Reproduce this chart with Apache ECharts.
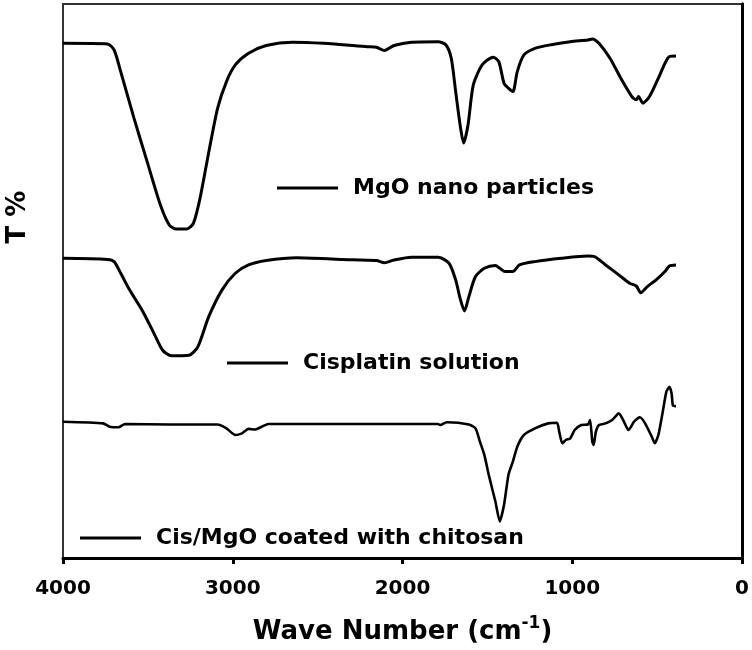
<!DOCTYPE html>
<html>
<head>
<meta charset="utf-8">
<script src="https://cdn.jsdelivr.net/npm/echarts@6/dist/echarts.min.js"></script>
<style>html,body{margin:0;padding:0;background:#fff;}#c{width:752px;height:650px;}</style>
</head>
<body>
<div id="c"></div>
<script>
// Wave numbers (cm-1) and relative transmittance (arbitrary offset units)
const mgoWave = [4000,3738,3699,3660,3582,3504,3426,3374,3335,3271,3232,3193,3141,3089,3037,2985,2907,2803,2648,2466,2206,2154,2107,2050,1947,1791,1744,1713,1687,1661,1640,1614,1583,1531,1466,1433,1402,1376,1350,1324,1285,1220,1116,1012,908,882,843,778,714,649,623,610,584,545,493,454,428,389];
const mgoT = [92.9,92.8,91.7,87.8,79.4,71.5,63.7,60.1,59.4,59.4,60.4,64.9,73.3,81.2,86.0,89.0,91.1,92.5,93.1,92.9,92.3,92.2,91.6,92.5,93.1,93.2,92.6,90.2,84.2,78.2,74.9,78.2,85.4,89.0,90.4,89.6,85.7,84.8,84.2,87.8,90.8,92.0,92.7,93.2,93.5,93.7,92.9,90.2,86.6,83.3,82.7,83.3,82.1,83.3,86.6,89.3,90.5,90.6];

const cisWave = [4000,3738,3699,3660,3608,3530,3465,3413,3361,3258,3206,3141,3063,2985,2907,2803,2622,2362,2154,2107,2050,1947,1791,1726,1687,1661,1635,1609,1570,1518,1453,1427,1396,1350,1311,1220,1064,908,869,804,726,662,623,597,558,506,454,428,389];
const cisT = [54.1,53.9,53.5,51.4,48.4,44.5,40.6,37.5,36.5,36.6,38.1,43.6,48.4,51.4,52.9,53.7,54.2,53.9,53.7,53.3,53.8,54.3,54.3,53.2,50.2,46.9,44.6,47.2,50.8,52.3,52.8,52.3,51.7,51.7,52.9,53.5,54.1,54.5,54.4,52.9,51.1,49.6,49.1,47.9,49.0,50.2,51.7,52.7,52.9];

const chiWave = [4000,3764,3725,3673,3634,3374,3089,3037,2985,2946,2907,2868,2829,2790,2466,2206,1791,1778,1739,1609,1570,1544,1518,1492,1453,1427,1402,1376,1350,1324,1285,1220,1142,1090,1077,1059,1038,1012,986,947,908,895,882,874,861,843,804,765,726,700,669,636,602,571,532,514,493,467,446,428,415,407,389];
const chiT = [24.6,24.3,23.7,23.6,24.2,24.1,24.1,23.4,22.2,22.5,23.3,23.2,23.7,24.2,24.2,24.2,24.2,24.0,24.5,24.1,23.4,21.0,18.6,15.0,10.2,6.6,9.6,15.0,17.4,20.1,22.2,23.4,24.3,24.4,22.8,20.7,21.3,21.6,23.1,24.0,24.1,24.9,21.0,20.4,22.8,24.0,24.3,24.9,26.1,24.9,23.1,24.6,25.4,24.3,21.9,20.7,22.2,26.4,30.0,30.9,29.7,27.5,27.4];

const seriesNames = ['MgO nano particles','Cisplatin solution','Cis/MgO coated with chitosan'];
const xTicks = [0,1000,2000,3000,4000];

function pairs(w,t){ return w.map((v,i)=>[v,t[i]]); }

const FONT = 'DejaVu Sans';
const chart = echarts.init(document.getElementById('c'));
const legendBase = {
  orient:'horizontal', icon:'rect', itemWidth:61, itemHeight:3, padding:0,
  selectedMode:false,
  textStyle:{fontFamily:FONT,fontWeight:'bold',fontSize:22,color:'#000',lineHeight:24,padding:[0,0,0,10]}
};
chart.setOption({
  backgroundColor:'#fff',
  animation:false,
  grid:{left:63,right:9,top:4,bottom:92,show:true,borderColor:'#333',borderWidth:2,backgroundColor:'transparent'},
  xAxis:[{
    type:'value', inverse:true, min:0, max:4000, interval:1000,
    axisLine:{show:true,onZero:false,lineStyle:{color:'#000',width:3}},
    axisTick:{show:true,length:6,lineStyle:{color:'#000',width:3}},
    splitLine:{show:false},
    axisLabel:{fontFamily:FONT,fontWeight:'bold',fontSize:20,color:'#000',margin:21,
      formatter:v=>xTicks.includes(v)?String(v):''},
    name:'{a|Wave Number (cm}{s|-1}{a|)}',
    nameLocation:'middle', nameGap:57,
    nameTextStyle:{rich:{
      a:{fontFamily:FONT,fontWeight:'bold',fontSize:26,color:'#000',lineHeight:30,verticalAlign:'bottom'},
      s:{fontFamily:FONT,fontWeight:'bold',fontSize:17,color:'#000',lineHeight:30,verticalAlign:'top',padding:[0,0,0,0]}
    }}
  }],
  yAxis:[{
    type:'value', min:0, max:100,
    axisLine:{show:true,lineStyle:{color:'#000',width:3}},
    axisTick:{show:false}, axisLabel:{show:false}, splitLine:{show:false}
  },{
    type:'value', min:0, max:100, position:'right',
    axisLine:{show:true,lineStyle:{color:'#000',width:3}},
    axisTick:{show:false}, axisLabel:{show:false}, splitLine:{show:false}
  }],
  legend:[
    Object.assign({},legendBase,{left:277,top:176,data:[seriesNames[0]]}),
    Object.assign({},legendBase,{left:227,top:351,data:[seriesNames[1]]}),
    Object.assign({},legendBase,{left:80,top:526,data:[seriesNames[2]]})
  ],
  graphic:[{
    type:'text', x:18, y:217, rotation:Math.PI/2,
    style:{text:'T %',font:'bold 26px "DejaVu Sans"',fill:'#000',align:'center',verticalAlign:'middle'}
  }],
  series:[
    {name:seriesNames[0],type:'line',data:pairs(mgoWave,mgoT),showSymbol:false,symbol:'none',smooth:0.25,
      lineStyle:{color:'#000',width:3},itemStyle:{color:'#000'}},
    {name:seriesNames[1],type:'line',data:pairs(cisWave,cisT),showSymbol:false,symbol:'none',smooth:0.25,
      lineStyle:{color:'#000',width:3},itemStyle:{color:'#000'}},
    {name:seriesNames[2],type:'line',data:pairs(chiWave,chiT),showSymbol:false,symbol:'none',smooth:0.2,
      lineStyle:{color:'#000',width:2.6},itemStyle:{color:'#000'}}
  ]
});
</script>
</body>
</html>
